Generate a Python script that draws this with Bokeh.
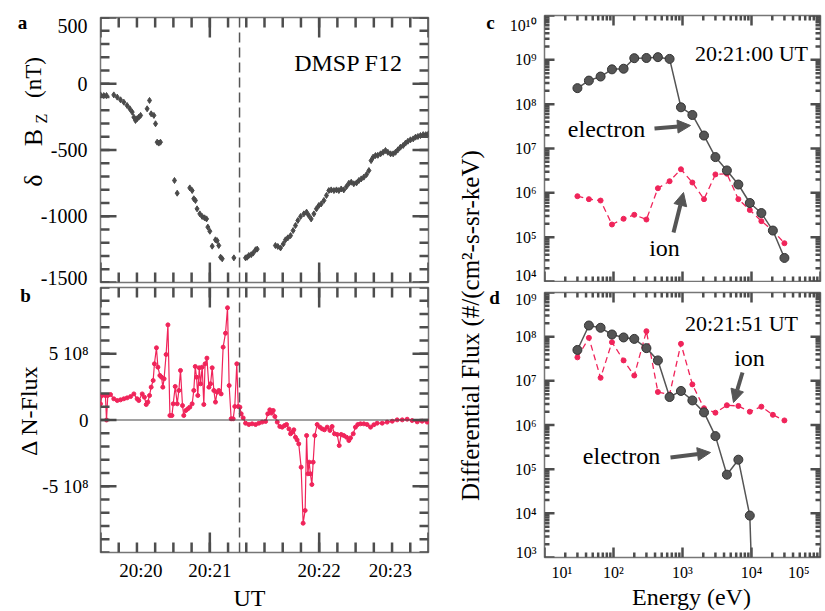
import math
from bokeh.plotting import figure
from bokeh.models import (Range1d, FixedTicker, LinearAxis, LogAxis, LogScale, Span,
                          Label, Arrow, NormalHead)
from bokeh.layouts import row, column
from bokeh.embed import file_html
from bokeh.resources import INLINE

SERIF = "Liberation Serif"
RED = "#f0245a"
GRAY = "#555555"
FRAME = "#767676"
TICK = "#4d4d4d"
NBSP = "\u00a0"

# ---------------- data ----------------
# panel a: delta Bz (nT) vs seconds after 20:20:00 UT
BZ_T = [0.0, 1.8, 3.3, 7.3, 9.2, 11.0, 12.8, 14.6, 16.1, 17.4, 18.3, 19.2, 20.1, 21.0, 22.0,
        25.6, 26.9, 27.8, 29.3, 30.2, 31.1, 32.0, 32.9, 40.6, 42.1, 49.0, 50.3, 51.2, 52.1,
        53.0, 54.5, 55.8, 57.1, 58.2, 58.9, 60.0, 61.3, 63.1, 64.0, 64.9, 65.9, 66.8, 73.2,
        79.6, 80.5, 81.4, 82.7, 83.8, 85.1, 86.0, 96.0, 97.3, 98.8, 100.3, 101.5, 102.8,
        104.3, 105.7, 107.0, 108.3, 109.8, 111.6, 113.1, 114.3, 115.6, 117.1, 118.5, 119.8,
        121.1, 122.6, 124.0, 125.3, 126.6, 128.1, 129.5, 130.8, 132.1, 133.5, 135.0, 136.3,
        137.6, 139.0, 140.5, 141.8, 143.1, 144.5, 146.0, 147.3, 148.5, 149.6, 150.9, 152.2,
        153.7, 155.1, 156.4, 157.7, 159.2, 160.6, 161.9, 163.2, 164.6, 166.1, 167.4, 168.7,
        170.1, 171.6, 172.9, 174.2, 175.6, 177.1, 178.5, 180.0]
BZ_NT = [-84, -89, -89, -84, -101, -121, -139, -164, -189, -214, -252, -277, -264, -252, -239,
         -189, -126, -227, -239, -302, -441, -448, -441, -730, -826, -786, -806, -868, -881,
         -944, -982, -1002, -1012, -1020, -1082, -1113, -1226, -1178, -1184, -1221, -1309, -1321, -1314,
         -1314, -1309, -1296, -1290, -1278, -1253, -1248, -1221, -1228, -1239, -1209, -1178, -1163,
         -1146, -1108, -1070, -1032, -1002, -982, -969, -995, -1020, -982, -944, -919,
         -907, -881, -843, -806, -801, -806, -801, -806, -794, -801, -776, -751,
         -743, -755, -748, -730, -718, -705, -685, -655, -580, -554, -542, -540,
         -529, -517, -504, -517, -529, -529, -517, -499, -479, -466, -448, -434,
         -423, -416, -403, -398, -391, -384, -384, -378]

# panel b: Delta N-Flux (units of 1e8) vs seconds after 20:20:00 UT
NF_T = [0.0, 0.9, 2.7, 3.3, 4.0, 5.5, 7.3, 9.2, 11.0, 12.8, 14.6, 16.5, 18.3, 20.1, 21.0,
        22.9, 24.1, 25.1, 26.0, 26.9, 27.8, 28.9, 29.6, 30.7, 31.5, 32.6, 33.5, 34.2, 34.9,
        36.0, 37.0, 38.1, 39.2, 39.9, 41.0, 42.1, 43.0, 43.9, 45.0, 45.7, 46.8, 47.9, 49.0,
        50.3, 51.2, 52.0, 52.7, 53.4, 54.2, 54.9, 55.8, 56.7, 57.4, 58.4, 59.5, 60.4, 61.3,
        62.2, 63.1, 64.0, 64.9, 66.2, 67.3, 68.6, 69.7, 70.6, 71.7, 72.8, 73.7, 74.8, 75.6,
        76.5, 77.2, 78.3, 79.6, 81.4, 83.2, 85.1, 86.9, 88.7, 90.6, 91.8, 92.9, 93.8, 94.8,
        95.7, 97.0, 98.4, 99.7, 101.0, 102.1, 103.4, 104.3, 105.2, 106.1, 107.0, 107.9,
        108.8, 110.1, 111.2, 112.3, 113.1, 113.8, 114.5, 115.2, 116.0, 116.7, 117.6, 118.9,
        120.4, 121.7, 122.9, 124.4, 125.9, 127.1, 128.4, 129.9, 131.0, 132.1, 133.5, 135.0,
        136.3, 137.2, 138.7, 139.9, 141.2, 142.7, 144.5, 146.3, 148.2, 150.0, 151.8, 154.6,
        157.3, 160.1, 162.8, 165.6, 168.3, 171.0, 173.8, 176.5, 179.3, 180.0]
NF_1E8 = [1.22, 1.85, 1.85, 0.0, 1.85, 1.92, 1.60, 1.47, 1.52, 1.60, 1.67, 1.77, 1.97, 1.60, 1.47,
          1.97, 1.72, 1.17, 1.35, 1.85, 2.48, 2.98, 4.24, 5.45, 3.99, 3.36, 3.23, 2.48, 3.11,
          4.94, 7.18, 0.34, 0.34, 1.22, 2.53, 1.22, 2.23, 3.74, 1.09, 0.34, 0.72, 0.84, 0.97,
          1.22, 2.23, 4.04, 3.23, 1.85, 3.94, 2.73, 3.99, 1.17, 4.24, 4.67, 2.48, 2.73, 3.94,
          2.23, 1.35, 2.10, 2.23, 1.97, 5.50, 6.55, 8.47, 2.60, 0.09, 0.09, 1.02, 4.24, 1.02,
          0.97, 0.47, 0.16, -0.24, -0.34, -0.29, -0.34, -0.24, -0.16, -0.11, 0.47, 0.77, 0.52, 0.72,
          0.26, -0.16, -0.49, -0.54, -0.42, -0.34, -0.67, -1.04, -0.92, -0.74, -1.30, -1.50,
          -1.80, -3.56, -7.79, -6.83, -1.17, -4.06, -3.18, -4.06, -4.87, -3.18, -1.17, -0.34,
          -0.54, -0.67, -0.74, -0.54, -0.79, -0.49, -1.04, -1.09, -1.93, -1.09, -1.17, -1.30,
          -1.55, -1.35, -1.04, -0.54, -0.34, -0.29, -0.29, -0.34, -0.54, -0.36, -0.24, -0.24,
          -0.16, -0.09, 0.01, 0.01, 0.06, -0.04, -0.14, -0.09, -0.16, -0.09]
DASH_T = 76.3  # 20:21:16 UT

# panels c, d: differential flux spectra
ENERGY_EV = [30, 44, 65, 95, 140, 200, 300, 440, 650, 950, 1390, 2050, 3000, 4400,
             6450, 9450, 13900, 20400, 30000]
C_ELECTRON = [2.3e8, 3.4e8, 4.2e8, 6.1e8, 6.3e8, 1.09e9, 1.1e9, 1.15e9, 1.05e9, 8.5e7,
              5.7e7, 1.96e7, 6.4e6, 3.2e6, 1.54e6, 5.9e5, 3.5e5, 1.41e5, 3.4e4]
C_ION = [8.4e5, 7.2e5, 6.7e5, 1.93e5, 2.6e5, 3.2e5, 2.5e5, 1.27e6, 1.83e6, 3.4e6,
         1.71e6, 7.2e5, 2.6e6, 2.7e6, 7.2e5, 4.1e5, 2.3e5, 1.41e5, 7.3e4]
D_ELECTRON = [5.0e7, 1.79e8, 1.59e8, 1.12e8, 9.6e7, 8.9e7, 5.5e7, 2.9e7, 4.3e6, 5.9e6,
              3.6e6, 1.93e6, 5.6e5, 7.5e4, 1.64e5, 8.9e3, 1e-4]
D_ION = [3.4e7, 9.4e7, 1.17e7, 7.5e7, 2.9e7, 1.32e7, 1.33e8, 5.6e6, 4.9e6, 6.9e7,
         8.3e6, 2.4e6, 1.9e6, 2.8e6, 2.7e6, 2.0e6, 2.6e6, 1.7e6, 1.27e6]

# ticks and tick labels
TIME_TICKS = [0, 60, 120, 180]
TIME_LABELS = ["20:20", "20:21", "20:22", "20:23"]
TIME_MINOR = [float(s) for s in range(10, 180, 10)]
BZ_TICKS = [-1500, -1000, -500, 0, 500]
BZ_LABELS = ["-1500", "-1000", "-500", "0", "500"]
BZ_MINOR = [float(v) for v in range(-1500, 501, 100)]
NF_TICKS = [-500000000, 0, 500000000]
NF_LABELS = ["-5 10\u2078", "0", "5 10\u2078"]
NF_MINOR = [k * 1.0e8 for k in range(-10, 11)]
SUP = "\u2070\u00b9\u00b2\u00b3\u2074\u2075\u2076\u2077\u2078\u2079"
DECADES = list(range(1, 11))
DECADE_LABELS = ["10" + "".join(SUP[int(c)] for c in str(k)) for k in DECADES]

# ---------------- geometry (window pixels of each frame) ----------------
GA = dict(px=(100, 428), py=(17, 282), xr=(0, 180), yr=(500, -1500), xlog=False, ylog=False)
GB = dict(px=(100, 428), py=(287, 552), xr=(0, 180), yr=(1e9, -1e9), xlog=False, ylog=False)
GC = dict(px=(544, 820), py=(15, 281), xr=(10, 1e5), yr=(1e10, 1e4), xlog=True, ylog=True)
GD = dict(px=(544, 820), py=(292, 557), xr=(10, 1e5), yr=(1e9, 1e3), xlog=True, ylog=True)


def to_data(g, px, py):
    def interp(f, r, lg):
        if lg:
            a, b = math.log10(r[0]), math.log10(r[1])
            return 10 ** (a + f * (b - a))
        return r[0] + f * (r[1] - r[0])
    fx = (px - g["px"][0]) / (g["px"][1] - g["px"][0])
    fy = (py - g["py"][0]) / (g["py"][1] - g["py"][0])
    return interp(fx, g["xr"], g["xlog"]), interp(fy, g["yr"], g["ylog"])


def to_py(g, v):
    """window pixel row of data value v on panel g's y axis"""
    a, b = g["yr"]
    if g["ylog"]:
        f = (math.log10(v) - math.log10(a)) / (math.log10(b) - math.log10(a))
    else:
        f = (v - a) / (b - a)
    return g["py"][0] + f * (g["py"][1] - g["py"][0])


def make_panel(g, bl, br, bt, bb):
    p = figure(x_axis_type=None, y_axis_type=None,
               x_range=Range1d(g["xr"][0], g["xr"][1]),
               y_range=Range1d(g["yr"][1], g["yr"][0]),
               frame_width=g["px"][1] - g["px"][0], frame_height=g["py"][1] - g["py"][0],
               min_border_left=bl, min_border_right=br, min_border_top=bt, min_border_bottom=bb,
               output_backend="svg", toolbar_location=None)
    if g["xlog"]:
        p.x_scale = LogScale()
    if g["ylog"]:
        p.y_scale = LogScale()
    p.outline_line_color = FRAME
    p.outline_line_width = 1.5
    return p


def label_axis(p, g, ticks, overrides, font_px, standoff, title, title_standoff):
    ax = (LogAxis if g["xlog"] else LinearAxis)(ticker=FixedTicker(ticks=list(ticks)))
    ax.axis_line_color = None
    ax.major_tick_in = 0
    ax.major_tick_out = 0
    ax.minor_tick_in = 0
    ax.minor_tick_out = 0
    ax.major_label_text_font = SERIF
    ax.major_label_text_font_size = f"{font_px}px"
    ax.major_label_text_color = "black"
    ax.major_label_standoff = standoff
    ax.major_label_overrides = overrides
    ax.axis_label = title
    ax.axis_label_text_font = SERIF
    ax.axis_label_text_font_size = "24px"
    ax.axis_label_text_font_style = "normal"
    ax.axis_label_text_color = "black"
    ax.axis_label_standoff = title_standoff
    p.add_layout(ax, "below")


def add_ticks(p, g, side, values, length):
    """inward tick marks along one side of the frame"""
    vals = [float(v) for v in values]
    n = len(vals)
    if side in ("bottom", "top"):
        edge = g["py"][1] if side == "bottom" else g["py"][0]
        inner = edge - length if side == "bottom" else edge + length
        y0 = to_data(g, g["px"][0], edge)[1]
        y1 = to_data(g, g["px"][0], inner)[1]
        p.segment(x0=list(vals), y0=[y0] * n, x1=list(vals), y1=[y1] * n,
                  line_color=TICK, line_width=2.5)
    else:
        edge = g["px"][0] if side == "left" else g["px"][1]
        inner = edge + length if side == "left" else edge - length
        x0 = to_data(g, edge, g["py"][0])[0]
        x1 = to_data(g, inner, g["py"][0])[0]
        p.segment(x0=[x0] * n, y0=list(vals), x1=[x1] * n, y1=list(vals),
                  line_color=TICK, line_width=2.5)


def frame_ticks(p, g, xmaj, xmin, ymaj, ymin, xl, yl):
    for side in ("bottom", "top"):
        add_ticks(p, g, side, xmaj, xl[0])
        add_ticks(p, g, side, xmin, xl[1])
    for side in ("left", "right"):
        add_ticks(p, g, side, ymaj, yl[0])
        add_ticks(p, g, side, ymin, yl[1])


def add_text(p, g, px, py, text, size):
    x, y = to_data(g, px, py)
    p.add_layout(Label(x=x, y=y, text=text, text_font=SERIF, text_font_size=f"{size}px",
                       text_align="center", text_baseline="middle", text_color="black"))


def add_arrow(p, g, p0, p1):
    x0, y0 = to_data(g, *p0)
    x1, y1 = to_data(g, *p1)
    p.add_layout(Arrow(end=NormalHead(size=13, fill_color=GRAY, line_color=GRAY),
                       x_start=x0, y_start=y0, x_end=x1, y_end=y1,
                       line_color=GRAY, line_width=4))


def strip(x_left, width, height=611):
    s = figure(width=width, height=height, x_range=Range1d(x_left, x_left + width),
               y_range=Range1d(height, 0), x_axis_type=None, y_axis_type=None, min_border=0,
               output_backend="svg", toolbar_location=None)
    s.outline_line_color = None
    return s


def strip_text(s, x, y, text, size, angle=0.0, bold=False, align="center"):
    s.add_layout(Label(x=x, y=y, text=text, text_font=SERIF, text_font_size=f"{size}px",
                       text_font_style="bold" if bold else "normal", text_align=align,
                       text_baseline="middle", angle=angle, text_color="black"))


def strip_ticklabels(s, g, ticks, labels, x_right, size, top_shift, bottom_shift):
    for v, lab in zip(ticks, labels):
        py = to_py(g, v)
        if abs(py - g["py"][0]) < 1:
            py += top_shift
        elif abs(py - g["py"][1]) < 1:
            py -= bottom_shift
        strip_text(s, x_right, py, lab, size, align="right")


time_map = dict(zip(TIME_TICKS, TIME_LABELS))
time_map[TIME_TICKS[0]] = NBSP * 5 + time_map[TIME_TICKS[0]]
time_map[TIME_TICKS[-1]] = time_map[TIME_TICKS[-1]] + NBSP * 6
dec_map = {10 ** k: lab for k, lab in zip(DECADES, DECADE_LABELS)}
e_map = dict(dec_map)
e_map[10] = NBSP * 3 + dec_map[10]
e_map[10 ** 5] = dec_map[10 ** 5] + NBSP * 4

E_MAJOR = [10 ** k for k in range(1, 6)]
E_MINOR = [m * 10 ** k for k in range(1, 5) for m in range(2, 10)]
C_MAJOR = [10 ** k for k in range(4, 11)]
C_MINOR = [m * 10 ** k for k in range(4, 10) for m in range(2, 10)]
D_MAJOR = [10 ** k for k in range(3, 10)]
D_MINOR = [m * 10 ** k for k in range(3, 9) for m in range(2, 10)]

# ---------------- panel a ----------------
pa = make_panel(GA, 5, 12, 17, 2)
pa.scatter(BZ_T, BZ_NT, marker="diamond", size=6, color="#4a4a4a")
pa.add_layout(Span(location=DASH_T, dimension="height", line_color=GRAY,
                   line_width=1.5, line_dash="10 5"))
frame_ticks(pa, GA, TIME_TICKS, TIME_MINOR, BZ_TICKS, BZ_MINOR, (20, 10), (16, 9))
add_text(pa, GA, 348, 62, "DMSP F12", 24)

# ---------------- panel b ----------------
pb = make_panel(GB, 5, 12, 3, 59)
label_axis(pb, GB, TIME_TICKS, time_map, 19, 7, "UT" + NBSP * 5, 1)
pb.add_layout(Span(location=0, dimension="width", line_color="#444444", line_width=1.2))
nf_values = [v * 1e8 for v in NF_1E8]
pb.line(NF_T, nf_values, line_color=RED, line_width=1.2)
pb.scatter(NF_T, nf_values, marker="circle", size=4, color=RED)
pb.add_layout(Span(location=DASH_T, dimension="height", line_color=GRAY,
                   line_width=1.5, line_dash="10 5"))
frame_ticks(pb, GB, TIME_TICKS, TIME_MINOR, NF_TICKS, NF_MINOR, (20, 10), (16, 9))

# ---------------- panel c ----------------
pc = make_panel(GC, 5, 5, 15, 1)
frame_ticks(pc, GC, E_MAJOR, E_MINOR, C_MAJOR, C_MINOR, (10, 5), (10, 5))
pc.line(ENERGY_EV, C_ION, line_color=RED, line_width=1.3, line_dash="6 4")
pc.scatter(ENERGY_EV, C_ION, marker="circle", size=5, color=RED)
pc.line(ENERGY_EV, C_ELECTRON, line_color=GRAY, line_width=1.5)
pc.scatter(ENERGY_EV, C_ELECTRON, marker="circle", size=9, fill_color=GRAY, line_color="#333333")
add_text(pc, GC, 751, 53, "20:21:00 UT", 22)
add_text(pc, GC, 606, 128, "electron", 24)
add_arrow(pc, GC, (654, 128), (690, 125))
add_text(pc, GC, 664, 247, "ion", 24)
add_arrow(pc, GC, (673, 232), (683, 192))

# ---------------- panel d ----------------
pd_ = make_panel(GD, 5, 5, 10, 54)
label_axis(pd_, GD, E_MAJOR, e_map, 16, 6, NBSP * 3 + "Energy (eV)", 0)
frame_ticks(pd_, GD, E_MAJOR, E_MINOR, D_MAJOR, D_MINOR, (10, 5), (10, 5))
pd_.line(ENERGY_EV, D_ION, line_color=RED, line_width=1.3, line_dash="6 4")
pd_.scatter(ENERGY_EV, D_ION, marker="circle", size=5, color=RED)
d_energy = ENERGY_EV[:len(D_ELECTRON)]
pd_.line(d_energy, D_ELECTRON, line_color=GRAY, line_width=1.5)
pd_.scatter(d_energy, D_ELECTRON, marker="circle", size=9, fill_color=GRAY, line_color="#333333")
add_text(pd_, GD, 741, 323, "20:21:51 UT", 22)
add_text(pd_, GD, 749, 357, "ion", 24)
add_arrow(pd_, GD, (742, 372), (733, 402))
add_text(pd_, GD, 621, 455, "electron", 24)
add_arrow(pd_, GD, (670, 457), (710, 452))

# ---------------- text strips (panel letters, y titles, y tick labels) ----------------
left = strip(0, 95)
strip_text(left, 22, 22, "a", 19, bold=True)
strip_text(left, 33, 180, "\u03b4", 26, angle=math.pi / 2)
strip_text(left, 33, 137, "B", 26, angle=math.pi / 2)
strip_text(left, 41, 118, "Z", 16, angle=math.pi / 2)
strip_text(left, 33, 77, "(nT)", 23, angle=math.pi / 2)
strip_text(left, 25, 295, "b", 19, bold=True)
strip_text(left, 28, 410, "\u0394 N-Flux", 24, angle=math.pi / 2)
strip_ticklabels(left, GA, BZ_TICKS, BZ_LABELS, 87, 20, 8, 5)
strip_ticklabels(left, GB, NF_TICKS, NF_LABELS, 88, 19, 0, 0)

mid = strip(440, 99)
strip_text(mid, 470, 322, "Differential Flux  (#/(cm\u00b2-s-sr-keV)", 25, angle=math.pi / 2)
strip_text(mid, 490, 22, "c", 19, bold=True)
strip_text(mid, 494, 297, "d", 19, bold=True)
strip_ticklabels(mid, GC, C_MAJOR, [dec_map[v] for v in C_MAJOR], 536, 16, 10, 6)
strip_ticklabels(mid, GD, D_MAJOR, [dec_map[v] for v in D_MAJOR], 536, 16, 7, 5)

layout = row(left, column(pa, pb), mid, column(pc, pd_))
open("out.html", "w").write(file_html(layout, INLINE))
